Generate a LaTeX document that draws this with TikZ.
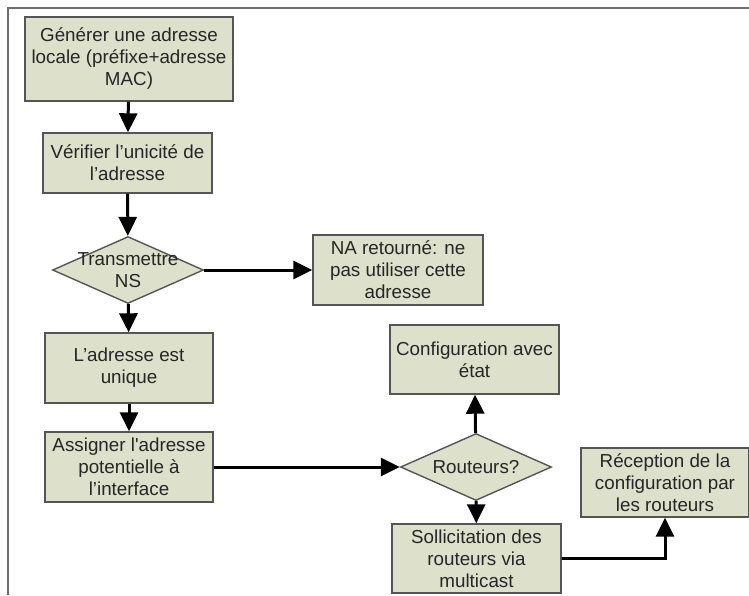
\documentclass[tikz,border=0pt]{standalone}
\usepackage{fontspec}
\setmainfont{Liberation Sans}
\usetikzlibrary{arrows.meta,shapes.geometric}

\definecolor{boxfill}{HTML}{DDE0CB}
\definecolor{boxline}{HTML}{555555}
\definecolor{framegray}{HTML}{6E6E6E}
\definecolor{textgray}{HTML}{262626}

\tikzset{
  stepbox/.style={draw=boxline, line width=1.4pt, fill=boxfill, rectangle,
    align=center, inner sep=0pt, text=textgray,
    font=\fontsize{18.8}{22}\selectfont},
  choice/.style={draw=boxline, line width=1.4pt, fill=boxfill, diamond,
    inner sep=0pt, minimum width=151pt, minimum height=67pt,
    label={[align=center, text=textgray,
      font=\fontsize{18.8}{22}\selectfont]center:#1}},
  flow/.style={line width=3pt, -{Triangle[length=19pt,width=18pt]}},
  frameline/.style={draw=framegray, line width=2pt}
}

\begin{document}
\begin{tikzpicture}[x=1pt, y=-1pt]
  \useasboundingbox (0,0) rectangle (749,595);

  % outer frame (top and left edges)
  \draw[frameline] (8,595) -- (8,8) -- (749,8);

  % main column
  \node[stepbox, minimum width=208pt, minimum height=84pt] (gen) at (129,59)
    {Générer une adresse\\locale (préfixe+adresse\\MAC)};
  \node[stepbox, minimum width=169pt, minimum height=60pt] (verif) at (127.5,163)
    {Vérifier l’unicité de\\l’adresse};
  \node[choice={Transmettre\\NS}] (ns) at (128,270) {};
  \node[stepbox, minimum width=170pt, minimum height=70pt] (na) at (398,270)
    {NA retourné: ne\\pas utiliser cette\\adresse};
  \node[stepbox, minimum width=168pt, minimum height=70pt] (uniq) at (129,368)
    {L’adresse est\\unique};
  \node[stepbox, minimum width=168pt, minimum height=70pt] (assign) at (129,467)
    {Assigner l\textquotesingle adresse\\potentielle à\\l’interface};

  % router branch
  \node[choice={Routeurs?}] (rt) at (476,467) {};
  \node[stepbox, minimum width=169pt, minimum height=69pt] (cfg) at (474.5,359.5)
    {Configuration avec\\état};
  \node[stepbox, minimum width=169pt, minimum height=69pt] (sol) at (476.5,558.5)
    {Sollicitation des\\routeurs via\\multicast};
  \node[stepbox, minimum width=168pt, minimum height=69pt] (rec) at (665,482.5)
    {Réception de la\\configuration par\\les routeurs};

  % connectors
  \draw[flow] (gen) -- (verif);
  \draw[flow] (verif) -- (ns);
  \draw[flow] (ns.east) -- (na.west);
  \draw[flow] (ns) -- (uniq);
  \draw[flow] (uniq) -- (assign);
  \draw[flow] (assign.east) -- (rt.west);
  \draw[flow] (rt) -- (cfg);
  \draw[flow] (rt) -- (sol);
  \draw[flow] (sol.east) -| (rec.south);
\end{tikzpicture}
\end{document}
